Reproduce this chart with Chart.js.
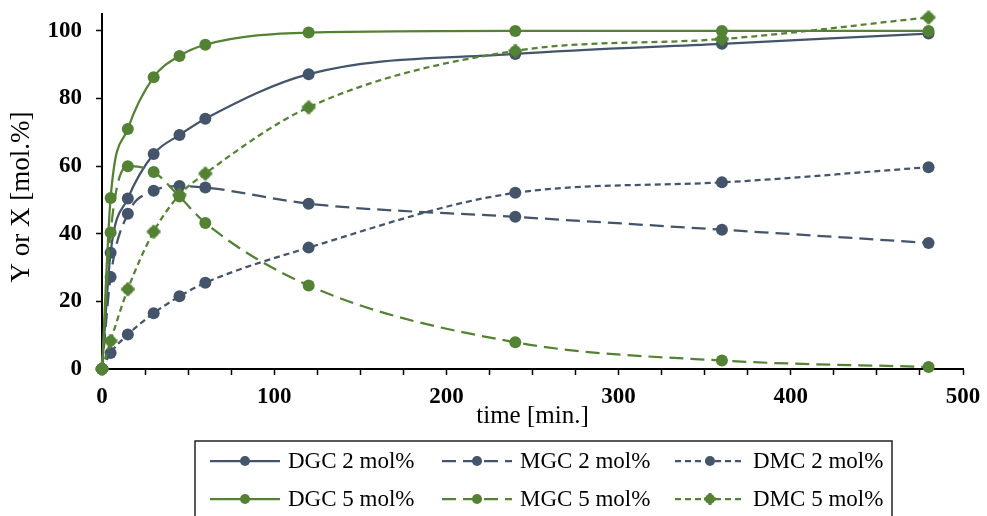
<!DOCTYPE html>
<html>
<head>
<meta charset="utf-8">
<script src="https://cdn.jsdelivr.net/npm/chart.js@4.4.0/dist/chart.umd.min.js"></script>
<style>
  html, body { margin: 0; padding: 0; background: #fff; }
  #wrap { width: 987px; height: 516px; }
</style>
</head>
<body>
<div id="wrap"><canvas id="chart" width="987" height="516"></canvas></div>
<script>
// sampling times [min.]
const timeMin = [0, 5, 15, 30, 45, 60, 120, 240, 360, 480];

// 2 mol% catalyst
const dgc2 = [0, 34.4, 50.4, 63.6, 69.2, 74.0, 87.2, 93.2, 96.2, 99.2];
const mgc2 = [0, 27.2, 45.9, 52.7, 54.1, 53.7, 48.9, 45.0, 41.2, 37.3];
const dmc2 = [0, 4.7, 10.2, 16.5, 21.5, 25.5, 35.9, 52.1, 55.2, 59.7];

// 5 mol% catalyst
const dgc5 = [0, 50.6, 71.0, 86.3, 92.6, 95.9, 99.5, 100, 100, 100];
const mgc5 = [0, 40.4, 60.0, 58.3, 51.0, 43.2, 24.7, 7.9, 2.5, 0.6];
const dmc5 = [0, 8.3, 23.6, 40.6, 51.5, 57.8, 77.4, 94.1, 97.6, 104.0];

const navy = '#44546A';
const green = '#548235';
const serif = '"Liberation Serif", "Times New Roman", serif';

const series = [
  { label: 'DGC 2 mol%', values: dgc2, color: navy, dash: [], cross: false },
  { label: 'MGC 2 mol%', values: mgc2, color: navy, dash: [14, 7], cross: false },
  { label: 'DMC 2 mol%', values: dmc2, color: navy, dash: [6, 4], cross: false },
  { label: 'DGC 5 mol%', values: dgc5, color: green, dash: [], cross: false },
  { label: 'MGC 5 mol%', values: mgc5, color: green, dash: [14, 7], cross: false },
  { label: 'DMC 5 mol%', values: dmc5, color: green, dash: [6, 4], cross: true }
];

// round marker, optionally with small plus nubs (DMC 5 mol%)
function drawMarker(g, x, y, r, color, cross) {
  g.fillStyle = color;
  g.beginPath();
  g.arc(x, y, r, 0, Math.PI * 2);
  g.fill();
  if (cross) {
    const arm = r * 1.2, w = r * 0.6;
    g.fillRect(x - w / 2, y - arm, w, arm * 2);
    g.fillRect(x - arm, y - w / 2, arm * 2, w);
  }
}

function markerImage(color, cross) {
  const c = document.createElement('canvas');
  c.width = 16; c.height = 16;
  drawMarker(c.getContext('2d'), 8, 8, 5.6, color, cross);
  return c;
}

const datasets = series.map((s, i) => ({
  label: s.label,
  data: timeMin.map((t, k) => ({ x: t, y: s.values[k] })),
  borderColor: s.color,
  backgroundColor: s.color,
  borderWidth: 2.25,
  borderDash: s.dash,
  pointStyle: s.cross ? markerImage(s.color, true) : 'circle',
  pointRadius: 6,
  pointBackgroundColor: s.color,
  pointBorderColor: s.color,
  pointBorderWidth: 0,
  cubicInterpolationMode: 'monotone',
  clip: false,
  order: series.length - i // later series on top, like the original
}));

// axis titles + boxed legend (3 columns x 2 rows)
const decor = {
  id: 'decor',
  afterDraw(chart) {
    const ctx = chart.ctx;
    const a = chart.chartArea;
    ctx.save();
    ctx.fillStyle = '#000';
    ctx.font = '25px ' + serif;
    ctx.textAlign = 'center';
    ctx.textBaseline = 'alphabetic';
    ctx.fillText('time [min.]', (a.left + a.right) / 2, a.bottom + 54);

    ctx.save();
    ctx.translate(22, 197);
    ctx.rotate(-Math.PI / 2);
    ctx.font = '27px ' + serif;
    ctx.textBaseline = 'middle';
    ctx.fillText('Y or X [mol.%]', 0, 0);
    ctx.restore();

    // legend frame
    const box = { left: 195, top: 441, right: 892 };
    ctx.strokeStyle = '#222';
    ctx.lineWidth = 1.5;
    ctx.strokeRect(box.left, box.top, box.right - box.left, 120);

    const colX = [210, 442, 675];
    const rowY = [461, 499];
    const lineLen = 70;
    ctx.font = '23px ' + serif;
    ctx.textAlign = 'left';
    ctx.textBaseline = 'middle';
    series.forEach((s, i) => {
      const x = colX[i % 3];
      const y = rowY[Math.floor(i / 3)];
      ctx.strokeStyle = s.color;
      ctx.lineWidth = 2.25;
      ctx.setLineDash(s.dash);
      ctx.beginPath();
      ctx.moveTo(x, y);
      ctx.lineTo(x + lineLen, y);
      ctx.stroke();
      ctx.setLineDash([]);
      drawMarker(ctx, x + lineLen / 2, y, 5, s.color, s.cross);
      ctx.fillStyle = '#000';
      ctx.fillText(s.label, x + lineLen + 8, y + 1);
    });
    ctx.restore();
  }
};

const tickFont = { family: serif, size: 23, weight: 'bold' };

new Chart(document.getElementById('chart').getContext('2d'), {
  type: 'line',
  data: { datasets: datasets },
  options: {
    responsive: false,
    animation: false,
    devicePixelRatio: 1,
    layout: { padding: { top: 14, right: 24, left: 0, bottom: 0 } },
    plugins: {
      legend: { display: false },
      tooltip: { enabled: false }
    },
    scales: {
      x: {
        type: 'linear',
        min: 0,
        max: 500,
        ticks: {
          stepSize: 25,
          autoSkip: false,
          includeBounds: false,
          maxRotation: 0,
          padding: 8,
          color: '#000',
          font: tickFont,
          callback: (v) => (v % 100 === 0 ? v : '')
        },
        grid: { drawOnChartArea: false, drawTicks: true, tickLength: 6, color: '#000', tickWidth: 1.5 },
        border: { color: '#000', width: 2 },
        afterFit: (s) => { s.height = 147; s.paddingLeft = 0; s.paddingRight = 0; }
      },
      y: {
        type: 'linear',
        min: 0,
        max: 105,
        ticks: {
          stepSize: 20,
          includeBounds: false,
          padding: 14,
          color: '#000',
          font: tickFont
        },
        grid: { drawOnChartArea: false, drawTicks: true, tickLength: 6, color: '#000', tickWidth: 1.5 },
        border: { color: '#000', width: 2 },
        afterFit: (s) => { s.width = 102; s.paddingTop = 0; s.paddingBottom = 0; }
      }
    }
  },
  plugins: [decor]
});
</script>
</body>
</html>
